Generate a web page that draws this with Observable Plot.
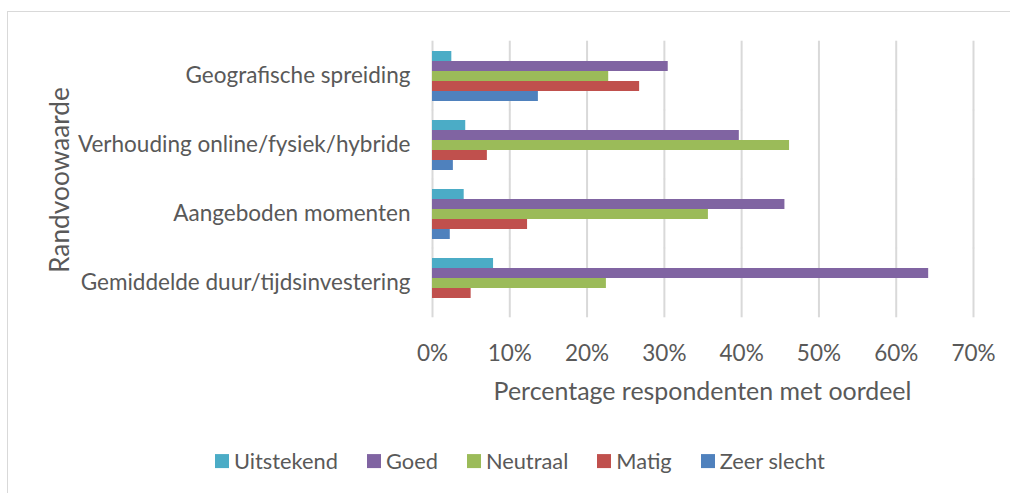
<!DOCTYPE html>
<html><head><meta charset="utf-8">
<script src="https://cdn.jsdelivr.net/npm/d3@7"></script>
<script src="https://cdn.jsdelivr.net/npm/@observablehq/plot@0.6"></script>
<style>
body{margin:0;background:#fff;}
#wrap{position:relative;width:1010px;height:493px;overflow:hidden;font-family:Lato,sans-serif;color:#595959;background:#fff;}
#border{position:absolute;left:7px;top:11px;width:1030px;height:520px;border:1px solid #d9d9d9;box-sizing:border-box;}
#chart{position:absolute;left:0;top:0;}
#xtitle{position:absolute;left:432px;width:541px;text-align:center;line-height:1;white-space:nowrap;}
#ytitle{position:absolute;left:59px;top:180px;transform:translate(-50%,-50%) rotate(-90deg);line-height:1;white-space:nowrap;}
#legend{position:absolute;left:215px;top:461px;transform:translateY(-50%);display:flex;align-items:center;white-space:nowrap;line-height:1;}
.item{display:flex;align-items:center;margin-right:29px;}
.sw{width:14px;height:14px;margin-right:5px;}
</style>
</head><body>
<div id="wrap">
  <div id="border"></div>
  <div id="chart"></div>
  <div id="ytitle">Randvoowaarde</div>
  <div id="xtitle">Percentage respondenten met oordeel</div>
  <div id="legend"></div>
</div>
<script>
const categories = ["Geografische spreiding", "Verhouding online/fysiek/hybride", "Aangeboden momenten", "Gemiddelde duur/tijdsinvestering"];
const series = ["Uitstekend", "Goed", "Neutraal", "Matig", "Zeer slecht"];
const colors = ["#4BACC6", "#8064A2", "#9BBB59", "#C0504D", "#4F81BD"];
const uitstekend = [2.5, 4.3, 4.1, 7.9];
const goed = [30.5, 39.7, 45.6, 64.2];
const neutraal = [22.8, 46.2, 35.7, 22.5];
const matig = [26.8, 7.1, 12.3, 5.0];
const zeerSlecht = [13.7, 2.7, 2.3, 0];
const xTicks = [0, 10, 20, 30, 40, 50, 60, 70];
const xTitle = "Percentage respondenten met oordeel";
const yTitle = "Randvoowaarde";

const values = [uitstekend, goed, neutraal, matig, zeerSlecht];
const data = categories.flatMap((c, i) => series.map((s, j) => ({category: c, series: s, value: values[j][i]})));

const ctx = document.createElement("canvas").getContext("2d");
function fit(text, target) { ctx.font = "100px Lato"; return 100 * target / ctx.measureText(text).width; }
const tickFs = fit("Gemiddelde duur/tijdsinvestering", 330);
const titleFs = fit(xTitle, 418);
const yTitleFs = fit(yTitle, 186);
const legendFs = fit("Uitstekend", 104);

const chart = Plot.plot({
  width: 1010, height: 430,
  marginLeft: 432, marginRight: 37, marginTop: 40, marginBottom: 112,
  style: {fontFamily: "Lato", fontSize: tickFs + "px", color: "#595959", background: "transparent", overflow: "visible"},
  x: {domain: [0, 70], ticks: xTicks, tickFormat: d => d + "%", tickSize: 0, tickPadding: 36, label: null},
  y: {domain: series, axis: null, paddingInner: 0, paddingOuter: 0},
  fy: {domain: categories, paddingInner: 0.266, paddingOuter: 0.133, axis: "left", tickSize: 0, tickPadding: 22, label: null},
  color: {domain: series, range: colors},
  marks: [
    Plot.ruleX(xTicks, {x: d => d, stroke: "#d9d9d9", strokeWidth: 2, insetTop: -9.3, insetBottom: -9.3}),
    Plot.barX(data, {fy: "category", y: "series", x: "value", fill: "series"})
  ]
});
document.getElementById("chart").appendChild(chart);

const xt = document.getElementById("xtitle");
xt.style.fontSize = titleFs + "px";
xt.style.top = (400 - 0.887 * titleFs) + "px";
const yt = document.getElementById("ytitle");
yt.style.fontSize = yTitleFs + "px";

const legend = document.getElementById("legend");
legend.style.fontSize = legendFs + "px";
series.forEach((s, i) => {
  const it = document.createElement("div"); it.className = "item";
  const sw = document.createElement("div"); sw.className = "sw"; sw.style.background = colors[i];
  const tx = document.createElement("span"); tx.textContent = s;
  it.appendChild(sw); it.appendChild(tx); legend.appendChild(it);
});
</script>
</body></html>
